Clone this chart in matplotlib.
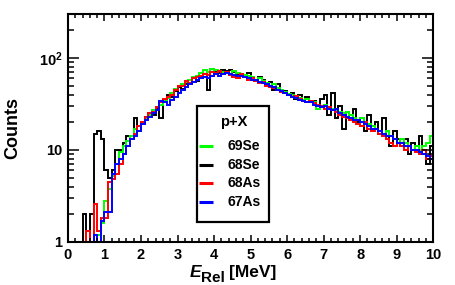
import numpy as np
import matplotlib
matplotlib.use("Agg")
import matplotlib.pyplot as plt
from matplotlib.patches import Rectangle
from matplotlib.ticker import FixedLocator, MultipleLocator, LogLocator, NullFormatter

plt.rcParams['font.family'] = ['Liberation Sans', 'DejaVu Sans']
plt.rcParams['font.weight'] = 'bold'
plt.rcParams['mathtext.fontset'] = 'custom'
plt.rcParams['mathtext.rm'] = 'Liberation Sans:bold'
plt.rcParams['mathtext.bf'] = 'Liberation Sans:bold'
plt.rcParams['mathtext.it'] = 'Liberation Sans:italic:bold'

# 0.1 MeV bins from 0 to 10 MeV
bin_edges = np.linspace(0, 10, 101)

se69 = [1, 1, 1, 1, 1, 1, 1, 1, 1.2, 1.6,
        2.8, 3.8, 5.2, 7, 9.5, 11, 12.5, 14, 17, 18,
        20, 22, 24, 27, 29, 31, 34, 37, 42, 46,
        50, 52, 55, 58, 62, 63, 68, 74, 70, 76,
        73, 72, 70, 69, 67, 72, 68, 66, 65, 64,
        62, 58, 60, 56, 54, 50, 52, 47, 45, 43,
        41, 40, 38, 37, 35, 36, 34, 33, 28, 30,
        31, 29, 28, 27, 26, 25, 26, 24, 22, 21,
        22, 20, 19, 18, 17, 16, 15, 16, 14, 13,
        12, 13, 12, 11, 10, 11, 10, 11, 12, 14]

se68 = [1, 1, 1, 1, 2, 1, 2, 15, 16, 13,
        6, 5, 6, 10, 10, 12, 14, 13, 22, 16,
        20, 23, 25, 24, 28, 22, 35, 40, 38, 44,
        48, 46, 52, 54, 60, 56, 62, 66, 45, 76,
        70, 68, 74, 72, 73, 70, 66, 65, 64, 68,
        62, 56, 62, 58, 52, 55, 45, 52, 44, 44,
        40, 42, 36, 40, 34, 38, 33, 34, 30, 36,
        40, 24, 42, 22, 30, 17, 26, 24, 28, 20,
        22, 16, 24, 18, 20, 15, 22, 14, 11, 16,
        13, 11, 13, 9, 12, 11, 14, 10, 7, 11]

as68 = [1, 1, 1, 1, 1, 1.3, 1, 2.6, 1.3, 1.8,
        1.8, 4.5, 4.8, 5.5, 7, 9, 11, 13, 15, 18,
        20, 23, 25, 26, 29, 33, 36, 38, 40, 45,
        49, 50, 56, 54, 60, 62, 64, 66, 65, 70,
        68, 72, 66, 70, 65, 62, 60, 66, 62, 58,
        60, 56, 53, 55, 50, 48, 47, 45, 43, 42,
        40, 38, 39, 36, 34, 33, 34, 32, 31, 30,
        28, 29, 27, 26, 24, 23, 22, 21, 20, 19,
        18, 20, 17, 16, 17, 15, 14, 13, 12, 11,
        12, 11, 10, 11, 10, 9.5, 9, 10, 8, 8.5]

as67 = [1, 1, 1, 1, 1, 1, 1, 1.2, 1, 1.7,
        2.1, 2.1, 5.5, 7, 8, 9, 11, 13, 14, 16,
        19, 21, 23, 25, 27, 34, 33, 31, 35, 38,
        42, 45, 48, 52, 55, 58, 60, 62, 60, 64,
        66, 64, 66, 68, 66, 65, 64, 63, 62, 60,
        58, 57, 55, 54, 52, 50, 48, 45, 44, 42,
        40, 38, 37, 35, 34, 33, 33, 31, 30, 29,
        30, 28, 27, 28, 25, 24, 23, 22, 21, 21,
        20, 19, 18, 17, 17, 16, 15, 14, 14, 13,
        12, 12, 11, 11, 10, 10, 9.5, 9, 8.5, 8]

series = [("68Se", se68, "black"), ("69Se", se69, "#00ff00"),
          ("68As", as68, "red"), ("67As", as67, "blue")]
legend_order = ["69Se", "68Se", "68As", "67As"]

fig = plt.figure(figsize=(4.56, 2.85), dpi=100)
ax = fig.add_axes([0.149, 0.151, 0.801, 0.80])

for name, vals, col in series:
    ax.stairs(vals, bin_edges, baseline=None, color=col, lw=1.4)

ax.set_xlim(0, 10)
ax.set_yscale('log')
ax.set_ylim(1, 300)

ax.xaxis.set_major_locator(MultipleLocator(1))
ax.xaxis.set_minor_locator(MultipleLocator(0.2))
ax.yaxis.set_major_locator(FixedLocator([1, 10, 100]))
ax.yaxis.set_minor_locator(LogLocator(base=10, subs=np.arange(2, 10)))
ax.yaxis.set_minor_formatter(NullFormatter())
ax.set_yticklabels(["1", "10", r"$\mathbf{10^{2}}$"])

ax.tick_params(which='both', direction='in', top=True, right=True, width=1.1,
               labelsize=10.5)
ax.tick_params(axis='x', which='major', length=5, pad=4)
ax.tick_params(axis='x', which='minor', length=2.8)
ax.tick_params(axis='y', which='major', length=8, pad=4)
ax.tick_params(axis='y', which='minor', length=4.3)
for lab in ax.get_xticklabels() + ax.get_yticklabels():
    lab.set_fontweight('bold')
for sp in ax.spines.values():
    sp.set_linewidth(1.5)

ax.set_ylabel("Counts", fontsize=13, fontweight='bold')
ax.yaxis.set_label_coords(-0.129, 0.50)

# x label assembled from pieces so the subscript keeps a large size
fig.text(190 / 456, 1 - 277 / 285, "E", fontsize=12.5, fontweight='bold',
         fontstyle='italic', ha='left', va='baseline')
fig.text(201 / 456, 1 - 282 / 285, "Rel", fontsize=11, fontweight='bold',
         ha='left', va='baseline')
fig.text(229 / 456, 1 - 277 / 285, "[MeV]", fontsize=12.5, fontweight='bold',
         ha='left', va='baseline')

# legend box drawn by hand
ax.add_patch(Rectangle((0.353, 0.088), 0.198, 0.508, transform=ax.transAxes,
                       facecolor='white', edgecolor='black', lw=1.6, zorder=5))
ax.text(0.455, 0.526, "p+X", transform=ax.transAxes, ha='center', va='center',
        fontsize=10.5, fontweight='bold', zorder=6)
colors = {n: c for n, v, c in series}
for k, name in enumerate(legend_order):
    yy = 0.421 - k * 0.082
    ax.plot([0.359, 0.397], [yy, yy], transform=ax.transAxes, color=colors[name],
            lw=2.2, zorder=6, solid_capstyle='butt')
    ax.text(0.436, yy, name, transform=ax.transAxes, ha='left', va='center',
            fontsize=10, fontweight='bold', zorder=6)

fig.savefig("out.png", dpi=100)
